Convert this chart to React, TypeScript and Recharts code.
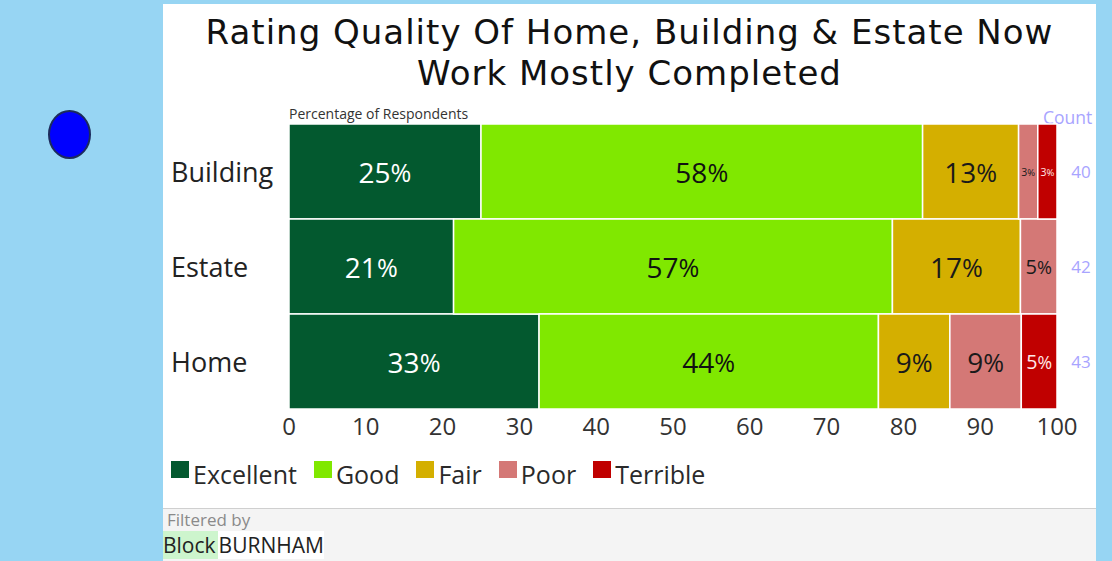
import React from 'react';
import { BarChart, Bar, XAxis, YAxis, LabelList, Legend } from 'recharts';

const categories = ['Building', 'Estate', 'Home'];
const counts = [40, 42, 43];
const excellent = [25, 21.43, 32.56];
const good = [57.5, 57.14, 44.19];
const fair = [12.5, 16.67, 9.3];
const poor = [2.5, 4.76, 9.3];
const terrible = [2.5, 0, 4.65];
const xTicks = [0, 10, 20, 30, 40, 50, 60, 70, 80, 90, 100];
const titleLines = ['Rating Quality Of Home, Building & Estate Now', 'Work Mostly Completed'];

const seriesKeys = ['Excellent', 'Good', 'Fair', 'Poor', 'Terrible'];
const seriesColors = ['#03592f', '#80e800', '#d4af00', '#d47876', '#c00000'];
const labelColors = ['#ffffff', '#111111', '#1a1a1a', '#1a1a1a', '#ffe8e8'];
const seriesValues = [excellent, good, fair, poor, terrible];

const data = categories.map((name, i) => {
  const row: any = { name, count: String(counts[i]) };
  seriesKeys.forEach((k, s) => {
    row[k] = seriesValues[s][i];
  });
  return row;
});

const FONT = '"Open Sans", "DejaVu Sans", sans-serif';
const TITLE_FONT = '"DejaVu Sans", sans-serif';

const makeLabel = (color: string) => (props: any) => {
  const { x, y, width, height, value } = props;
  if (!value || width <= 0) return null;
  const fs = Math.min(28, width * 0.55);
  return (
    <text
      x={x + width / 2}
      y={y + height / 2}
      textAnchor="middle"
      dominantBaseline="central"
      fill={color}
      fontFamily={FONT}
      fontSize={fs}
    >
      {Math.round(value)}
      <tspan fontSize={fs * 0.9}>%</tspan>
    </text>
  );
};

const CatTick = (props: any) => {
  const { y, payload } = props;
  return (
    <text x={171} y={y} dominantBaseline="central" textAnchor="start" fill="#222" fontFamily={FONT} fontSize={27}>
      {payload.value}
    </text>
  );
};

const CountTick = (props: any) => {
  const { x, y, payload } = props;
  return (
    <text x={x + 16} y={y} dominantBaseline="central" textAnchor="middle" fill="#a8a4ff" fontFamily={FONT} fontSize={17}>
      {payload.value}
    </text>
  );
};

const LegendContent = (props: any) => {
  const items = [...(props.payload || [])].sort(
    (a: any, b: any) => seriesKeys.indexOf(a.value) - seriesKeys.indexOf(b.value)
  );
  return (
    <div style={{ display: 'flex', alignItems: 'flex-start', height: 40, fontFamily: FONT }}>
      {items.map((p: any) => (
        <div key={p.value} style={{ display: 'flex', alignItems: 'flex-start', marginRight: 17 }}>
          <div style={{ width: 18, height: 17, background: p.color, marginTop: 2, marginRight: 4 }} />
          <span style={{ fontSize: 25, color: '#2a2a2a', lineHeight: '30px' }}>{p.value}</span>
        </div>
      ))}
    </div>
  );
};

export default function App() {
  return (
    <div style={{ position: 'absolute', left: 0, top: 0, width: 1112, height: 561, background: '#97d5f3', overflow: 'hidden', fontFamily: FONT }}>
      <div style={{ position: 'absolute', left: 48, top: 110, width: 43, height: 49, borderRadius: '50%', background: '#0000ff', border: '2px solid #1c2b5c', boxSizing: 'border-box' }} />
      <div style={{ position: 'absolute', left: 163, top: 4, width: 933, height: 557, background: '#ffffff' }} />
      <div style={{ position: 'absolute', left: 163, top: 508, width: 933, height: 53, background: '#f4f4f4', borderTop: '1px solid #cfcfcf' }} />
      {titleLines.map((line, i) => (
        <div
          key={line}
          style={{ position: 'absolute', left: 163, top: 12 + i * 41, width: 933, height: 41, textAlign: 'center', fontFamily: TITLE_FONT, fontSize: 34, letterSpacing: 1.0, lineHeight: '41px', color: '#111', whiteSpace: 'nowrap' }}
        >
          {line}
        </div>
      ))}
      <div style={{ position: 'absolute', left: 289, top: 105, fontSize: 14, color: '#333', lineHeight: '18px' }}>Percentage of Respondents</div>
      <div style={{ position: 'absolute', left: 1043, top: 106, fontSize: 17.5, color: '#a8a4ff', lineHeight: '22px' }}>Count</div>
      <div style={{ position: 'absolute', left: 167, top: 509, fontSize: 17, color: '#8a8a8a', lineHeight: '22px' }}>Filtered by</div>
      <div style={{ position: 'absolute', left: 163, top: 531, display: 'flex', fontSize: 21, lineHeight: '28px', color: '#222' }}>
        <span style={{ background: '#cdf5cd', paddingRight: 2 }}>Block</span>
        <span style={{ background: '#ffffff', paddingLeft: 1 }}>BURNHAM</span>
      </div>
      <div style={{ position: 'absolute', left: 0, top: 0 }}>
        <BarChart
          width={1112}
          height={561}
          data={data}
          layout="vertical"
          margin={{ top: 124, right: 0, bottom: 82, left: 0 }}
          barCategoryGap={0}
        >
          <XAxis
            type="number"
            domain={[0, 100]}
            ticks={xTicks}
            axisLine={false}
            tickLine={false}
            height={30}
            tick={{ fill: '#333', fontSize: 24, fontFamily: FONT }}
            tickMargin={3}
            interval={0}
          />
          <YAxis yAxisId="left" type="category" dataKey="name" width={289} axisLine={false} tickLine={false} tick={<CatTick />} />
          <YAxis yAxisId="right" orientation="right" type="category" dataKey="count" width={55} axisLine={false} tickLine={false} tick={<CountTick />} />
          <Legend
            verticalAlign="bottom"
            align="left"
            content={<LegendContent />}
            wrapperStyle={{ left: 171, top: 459, width: 700, height: 40 }}
          />
          {seriesKeys.map((k, s) => (
            <Bar key={k} yAxisId="left" dataKey={k} stackId="a" fill={seriesColors[s]} stroke="#ffffff" strokeWidth={1.5} isAnimationActive={false}>
              <LabelList dataKey={k} content={makeLabel(labelColors[s])} />
            </Bar>
          ))}
        </BarChart>
      </div>
    </div>
  );
}
